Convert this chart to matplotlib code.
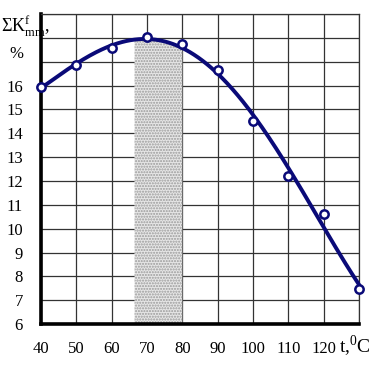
#!/usr/bin/env python

import numpy as np
import matplotlib
matplotlib.use("Agg")
import matplotlib.pyplot as plt


temps = [40, 50, 60, 70, 80, 90, 100, 110, 120, 130]
k_sum = [15.95, 16.85, 17.58, 18.02, 17.74, 16.65, 14.53, 12.19, 10.62, 7.47]
x_ticks = [40, 50, 60, 70, 80, 90, 100, 110, 120, 130]
x_labels = ["40", "50", "60", "70", "80", "90", "100", "110", "120", ""]
y_ticks = [6, 7, 8, 9, 10, 11, 12, 13, 14, 15, 16]
zone = [66.5, 80]

NAVY = "#0a0a78"

plt.rcParams["font.family"] = ["Liberation Serif", "DejaVu Serif"]
plt.rcParams["mathtext.fontset"] = "custom"
plt.rcParams["mathtext.rm"] = "Liberation Serif"


def main():
    fig = plt.figure(figsize=(3.72, 3.72), dpi=100, facecolor="white")
    ax = fig.add_axes([0.110, 0.129, 0.855, 0.833])

    coef = np.polyfit(temps, k_sum, 4)
    xs = np.linspace(40, 130, 300)
    ys = np.polyval(coef, xs)

    # shaded optimum zone under the curve
    zx = np.linspace(zone[0], zone[1], 50)
    ax.fill_between(zx, 6, np.polyval(coef, zx), facecolor="#e6e6e6",
                    edgecolor="#9a9a9a", hatch="......", linewidth=0, zorder=1)

    ax.plot(xs, ys, color=NAVY, lw=2.8, zorder=3, clip_on=False)
    ax.plot(temps, k_sum, "o", ms=6, mfc="white", mec=NAVY, mew=1.8,
            zorder=4, clip_on=False)

    ax.set_xlim(40, 130)
    ax.set_ylim(6, 19)
    ax.grid(True, color="#333333", lw=0.9, zorder=0)
    ax.set_axisbelow(True)

    ax.set_xticks(x_ticks)
    ax.set_xticklabels(x_labels, fontsize=12)
    ax.set_yticks(list(range(6, 20)))
    ax.set_yticklabels([str(v) if v in y_ticks else "" for v in range(6, 20)],
                       fontsize=12)
    ax.tick_params(length=0, pad=13)
    ax.tick_params(axis="x", pad=12)

    for side in ["top", "right"]:
        ax.spines[side].set_linewidth(0.9)
        ax.spines[side].set_color("#333333")
    for side in ["left", "bottom"]:
        ax.spines[side].set_linewidth(2.6)
        ax.spines[side].set_color("black")

    fig.text(0.997, 0.068, "t,$^{\\rm 0}$C", fontsize=14, ha="right",
             va="center")
    fig.text(0.003, 0.93, "$\\Sigma$K$^{\\rm f}_{\\rm mm}$,", fontsize=13,
             ha="left", va="center")
    fig.text(0.045, 0.855, "%", fontsize=12, ha="center", va="center")

    fig.savefig("out.png", dpi=100)


if __name__ == "__main__":
    main()
